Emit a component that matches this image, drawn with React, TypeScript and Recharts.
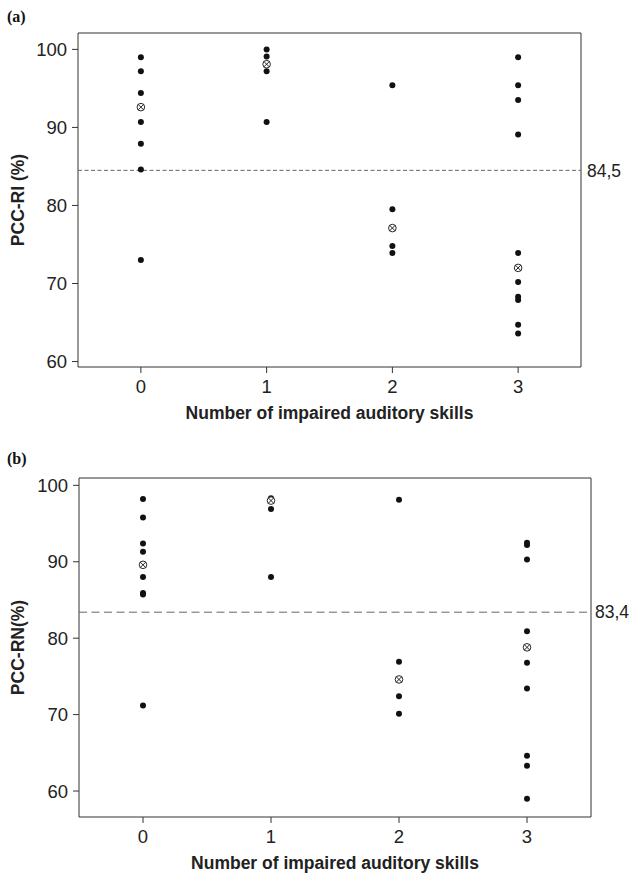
import {
  ScatterChart,
  Scatter,
  XAxis,
  YAxis,
  ReferenceLine,
  ReferenceArea,
  Label,
} from "recharts";

// x positions: number of impaired auditory skills
const GROUPS = [0, 1, 2, 3];
const X_TICKS = [0, 1, 2, 3];
const Y_TICKS = [60, 70, 80, 90, 100];

// (a) PCC-RI, individual children per group
const RI_VALUES: number[][] = [
  [99.0, 97.2, 94.4, 90.7, 87.9, 84.6, 73.0],
  [100.0, 99.1, 98.2, 97.2, 90.7],
  [95.4, 79.5, 74.8, 73.9],
  [99.0, 95.4, 93.5, 89.1, 73.9, 70.2, 68.3, 67.9, 64.7, 63.6],
];
const RI_MEANS = [92.6, 98.1, 77.1, 72.0];
const RI_CUTOFF = 84.5;

// (b) PCC-RN
const RN_VALUES: number[][] = [
  [98.2, 95.8, 92.4, 91.3, 88.0, 85.9, 85.7, 71.2],
  [98.3, 98.1, 96.9, 88.0],
  [98.1, 76.9, 72.4, 70.1],
  [92.5, 92.2, 90.3, 80.9, 76.8, 73.4, 64.6, 63.3, 59.0],
];
const RN_MEANS = [89.6, 98.0, 74.6, 78.8];
const RN_CUTOFF = 83.4;

const SANS = "'Liberation Sans', Arial, sans-serif";
const INK = "#222";

const toPoints = (values: number[][]) =>
  values.flatMap((vals, i) => vals.map((y) => ({ x: GROUPS[i], y })));
const toMeans = (means: number[]) => means.map((y, i) => ({ x: GROUPS[i], y }));

const Dot = (props: any) => <circle cx={props.cx} cy={props.cy} r={3} fill="#111" />;

const MeanMark = (props: any) => {
  const { cx, cy } = props;
  const r = 3.8;
  const d = r * 0.7071;
  return (
    <g>
      <circle cx={cx} cy={cy} r={r} fill="#fff" stroke="#111" strokeWidth={0.9} />
      <line x1={cx - d} y1={cy - d} x2={cx + d} y2={cy + d} stroke="#111" strokeWidth={0.9} />
      <line x1={cx - d} y1={cy + d} x2={cx + d} y2={cy - d} stroke="#111" strokeWidth={0.9} />
    </g>
  );
};

interface PanelProps {
  values: number[][];
  means: number[];
  cutoff: number;
  cutoffLabel: string;
  yLabel: string;
  yDomain: [number, number];
  height: number;
  margin: { top: number; right: number; left: number; bottom: number };
  yAxisWidth: number;
  xAxisHeight: number;
  dash: string;
  labelOffset: number;
}

function Panel(p: PanelProps) {
  return (
    <ScatterChart width={634} height={p.height} margin={p.margin}>
      <XAxis
        type="number"
        dataKey="x"
        domain={[-0.5, 3.5]}
        ticks={X_TICKS}
        allowDataOverflow
        axisLine={false}
        tickLine={{ stroke: "#333" }}
        tickSize={6}
        tickMargin={7}
        height={p.xAxisHeight}
        tick={{ fill: INK, fontSize: 18.5, fontFamily: SANS }}
      >
        <Label
          value="Number of impaired auditory skills"
          position="insideTop"
          offset={40}
          fill={INK}
          fontSize={17.5}
          fontWeight="bold"
          fontFamily={SANS}
        />
      </XAxis>
      <YAxis
        type="number"
        dataKey="y"
        domain={p.yDomain}
        ticks={Y_TICKS}
        allowDataOverflow
        axisLine={false}
        tickLine={{ stroke: "#333" }}
        tickSize={6}
        tickMargin={5}
        width={p.yAxisWidth}
        tick={{ fill: INK, fontSize: 18.5, fontFamily: SANS }}
      >
        <Label
          value={p.yLabel}
          angle={-90}
          position="insideLeft"
          offset={18}
          fill={INK}
          fontSize={17.5}
          fontWeight="bold"
          fontFamily={SANS}
          style={{ textAnchor: "middle" }}
        />
      </YAxis>
      <ReferenceArea
        x1={-0.5}
        x2={3.5}
        y1={p.yDomain[0]}
        y2={p.yDomain[1]}
        fill="#fff"
        fillOpacity={0}
        stroke="#333"
        strokeWidth={1}
      />
      <ReferenceLine
        y={p.cutoff}
        stroke="#666"
        strokeWidth={1}
        strokeDasharray={p.dash}
        label={{
          value: p.cutoffLabel,
          position: "right",
          offset: p.labelOffset,
          fill: INK,
          fontSize: 17.5,
          fontFamily: SANS,
        }}
      />
      <Scatter data={toPoints(p.values)} shape={Dot} isAnimationActive={false} />
      <Scatter data={toMeans(p.means)} shape={MeanMark} isAnimationActive={false} />
    </ScatterChart>
  );
}

const panelTag: React.CSSProperties = {
  position: "absolute",
  left: 7,
  fontFamily: "'Liberation Serif', 'Times New Roman', serif",
  fontWeight: "bold",
  fontSize: 16,
  color: "#111",
  lineHeight: "16px",
};

export default function App() {
  return (
    <div style={{ position: "absolute", top: 0, left: 0, width: 634, height: 873, background: "#fff" }}>
      <div style={{ position: "absolute", top: 0, left: 0 }}>
        <Panel
          values={RI_VALUES}
          means={RI_MEANS}
          cutoff={RI_CUTOFF}
          cutoffLabel="84,5"
          yLabel="PCC-RI (%)"
          yDomain={[59.3, 102.1]}
          height={430}
          margin={{ top: 33, right: 53, left: 0, bottom: 0 }}
          yAxisWidth={78}
          xAxisHeight={63}
          dash="4 2.5"
          labelOffset={6}
        />
      </div>
      <div style={{ position: "absolute", top: 440, left: 0 }}>
        <Panel
          values={RN_VALUES}
          means={RN_MEANS}
          cutoff={RN_CUTOFF}
          cutoffLabel="83,4"
          yLabel="PCC-RN(%)"
          yDomain={[56.6, 100.96]}
          height={433}
          margin={{ top: 38, right: 43, left: 0, bottom: 0 }}
          yAxisWidth={79}
          xAxisHeight={56}
          dash="8 4.5"
          labelOffset={4}
        />
      </div>
      <div style={{ ...panelTag, top: 9 }}>(a)</div>
      <div style={{ ...panelTag, top: 451 }}>(b)</div>
    </div>
  );
}
